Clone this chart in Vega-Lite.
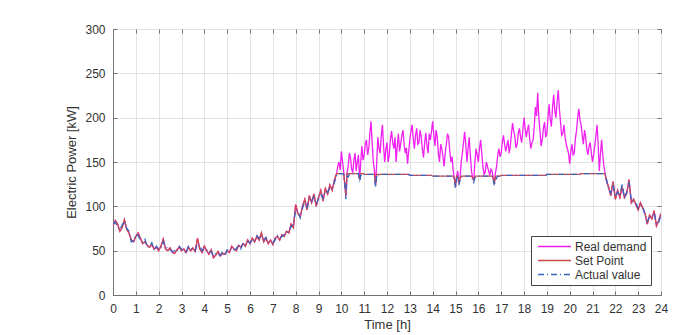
{
  "$schema": "https://vega.github.io/schema/vega-lite/v6.json",
  "autosize": {"type": "none"},
  "width": 548,
  "height": 266,
  "padding": {"left": 113, "top": 29, "right": 23, "bottom": 40},
  "background": "white",
  "config": {
    "font": "Liberation Sans",
    "view": {"stroke": "#737373", "strokeWidth": 1},
    "axis": {
      "labelFont": "Liberation Sans",
      "titleFont": "Liberation Sans",
      "labelFontSize": 12,
      "titleFontSize": 13,
      "titleFontWeight": "normal",
      "labelColor": "#333333",
      "titleColor": "#333333",
      "domainColor": "#737373",
      "tickColor": "#737373",
      "gridColor": "#e3e3e3",
      "gridOpacity": 1
    }
  },
  "data": {
    "values": [
      {"t":0.0,"d":78,"s":78,"a":80},{"t":0.1,"d":84,"s":84,"a":82},{"t":0.2,"d":80,"s":80,"a":77},{"t":0.3,"d":72,"s":72,"a":74},{"t":0.4,"d":76,"s":76,"a":79},
      {"t":0.5,"d":85,"s":85,"a":83},{"t":0.6,"d":74,"s":74,"a":75},{"t":0.7,"d":70,"s":70,"a":72},{"t":0.8,"d":62,"s":62,"a":60},{"t":0.9,"d":60,"s":60,"a":61},
      {"t":1.0,"d":66,"s":66,"a":68},{"t":1.1,"d":70,"s":70,"a":67},{"t":1.2,"d":64,"s":64,"a":62},{"t":1.3,"d":58,"s":58,"a":60},{"t":1.4,"d":60,"s":60,"a":63},
      {"t":1.5,"d":56,"s":56,"a":54},{"t":1.6,"d":54,"s":54,"a":55},{"t":1.7,"d":57,"s":57,"a":59},{"t":1.8,"d":52,"s":52,"a":50},{"t":1.9,"d":54,"s":54,"a":55},
      {"t":2.0,"d":50,"s":50,"a":52},{"t":2.1,"d":55,"s":55,"a":53},{"t":2.2,"d":63,"s":63,"a":60},{"t":2.3,"d":52,"s":52,"a":54},{"t":2.4,"d":50,"s":50,"a":53},
      {"t":2.5,"d":53,"s":53,"a":51},{"t":2.6,"d":48,"s":48,"a":49},{"t":2.7,"d":47,"s":47,"a":50},{"t":2.8,"d":51,"s":51,"a":49},{"t":2.9,"d":54,"s":54,"a":55},
      {"t":3.0,"d":50,"s":50,"a":52},{"t":3.1,"d":52,"s":52,"a":50},{"t":3.2,"d":48,"s":48,"a":47},{"t":3.3,"d":54,"s":54,"a":55},{"t":3.4,"d":50,"s":50,"a":53},
      {"t":3.5,"d":53,"s":53,"a":51},{"t":3.6,"d":49,"s":49,"a":50},{"t":3.7,"d":64,"s":64,"a":58},{"t":3.8,"d":52,"s":52,"a":55},{"t":3.9,"d":48,"s":48,"a":50},
      {"t":4.0,"d":55,"s":55,"a":52},{"t":4.1,"d":50,"s":50,"a":51},{"t":4.2,"d":46,"s":46,"a":48},{"t":4.3,"d":51,"s":51,"a":49},{"t":4.4,"d":42,"s":42,"a":44},
      {"t":4.5,"d":45,"s":45,"a":47},{"t":4.6,"d":49,"s":49,"a":46},{"t":4.7,"d":44,"s":44,"a":45},{"t":4.8,"d":47,"s":47,"a":49},{"t":4.9,"d":46,"s":46,"a":44},
      {"t":5.0,"d":50,"s":50,"a":51},{"t":5.1,"d":48,"s":48,"a":50},{"t":5.2,"d":55,"s":55,"a":53},{"t":5.3,"d":52,"s":52,"a":51},{"t":5.4,"d":50,"s":50,"a":52},
      {"t":5.5,"d":56,"s":56,"a":57},{"t":5.6,"d":54,"s":54,"a":52},{"t":5.7,"d":58,"s":58,"a":59},{"t":5.8,"d":55,"s":55,"a":57},{"t":5.9,"d":62,"s":62,"a":60},
      {"t":6.0,"d":58,"s":58,"a":59},{"t":6.1,"d":64,"s":64,"a":62},{"t":6.2,"d":60,"s":60,"a":61},{"t":6.3,"d":66,"s":66,"a":67},{"t":6.4,"d":62,"s":62,"a":64},
      {"t":6.5,"d":70,"s":70,"a":67},{"t":6.6,"d":60,"s":60,"a":62},{"t":6.7,"d":64,"s":64,"a":65},{"t":6.8,"d":58,"s":58,"a":60},{"t":6.9,"d":62,"s":62,"a":60},
      {"t":7.0,"d":57,"s":57,"a":59},{"t":7.1,"d":64,"s":64,"a":62},{"t":7.2,"d":66,"s":66,"a":67},{"t":7.3,"d":62,"s":62,"a":64},{"t":7.4,"d":68,"s":68,"a":66},
      {"t":7.5,"d":66,"s":66,"a":68},{"t":7.6,"d":72,"s":72,"a":70},{"t":7.7,"d":70,"s":70,"a":72},{"t":7.8,"d":80,"s":80,"a":77},{"t":7.9,"d":76,"s":76,"a":80},
      {"t":8.0,"d":102,"s":102,"a":96},{"t":8.1,"d":92,"s":92,"a":94},{"t":8.2,"d":88,"s":88,"a":87},{"t":8.3,"d":100,"s":100,"a":98},{"t":8.4,"d":108,"s":108,"a":105},
      {"t":8.5,"d":96,"s":96,"a":99},{"t":8.6,"d":112,"s":112,"a":109},{"t":8.7,"d":104,"s":104,"a":106},{"t":8.8,"d":114,"s":114,"a":111},{"t":8.9,"d":100,"s":100,"a":103},
      {"t":9.0,"d":110,"s":110,"a":108},{"t":9.1,"d":118,"s":118,"a":115},{"t":9.2,"d":106,"s":106,"a":109},{"t":9.3,"d":120,"s":120,"a":117},{"t":9.4,"d":114,"s":114,"a":116},
      {"t":9.5,"d":124,"s":124,"a":121},{"t":9.6,"d":118,"s":118,"a":120},{"t":9.7,"d":130,"s":130,"a":127},{"t":9.8,"d":138,"s":137,"a":135},{"t":9.9,"d":150,"s":137,"a":137},
      {"t":10.0,"d":162,"s":137,"a":137},{"t":10.1,"d":140,"s":137,"a":136},{"t":10.2,"d":112,"s":112,"a":108},{"t":10.3,"d":145,"s":137,"a":133},{"t":10.4,"d":155,"s":137,"a":137},
      {"t":10.5,"d":138,"s":137,"a":137},{"t":10.6,"d":160,"s":137,"a":137},{"t":10.7,"d":150,"s":137,"a":137},{"t":10.8,"d":130,"s":130,"a":127},{"t":10.9,"d":168,"s":137,"a":134},
      {"t":11.0,"d":158,"s":136,"a":136},{"t":11.1,"d":175,"s":136,"a":136},{"t":11.2,"d":165,"s":136,"a":136},{"t":11.3,"d":196,"s":136,"a":136},{"t":11.4,"d":150,"s":136,"a":136},
      {"t":11.5,"d":124,"s":124,"a":121},{"t":11.6,"d":178,"s":136,"a":134},{"t":11.7,"d":160,"s":136,"a":136},{"t":11.8,"d":192,"s":136,"a":136},{"t":11.9,"d":150,"s":136,"a":136},
      {"t":12.0,"d":172,"s":136,"a":136},{"t":12.1,"d":158,"s":136,"a":136},{"t":12.2,"d":185,"s":136,"a":136},{"t":12.3,"d":165,"s":136,"a":136},{"t":12.4,"d":150,"s":136,"a":136},
      {"t":12.5,"d":182,"s":136,"a":136},{"t":12.6,"d":170,"s":136,"a":136},{"t":12.7,"d":186,"s":136,"a":136},{"t":12.8,"d":160,"s":136,"a":136},{"t":12.9,"d":148,"s":136,"a":136},
      {"t":13.0,"d":175,"s":135,"a":135},{"t":13.1,"d":192,"s":135,"a":135},{"t":13.2,"d":165,"s":135,"a":135},{"t":13.3,"d":188,"s":135,"a":135},{"t":13.4,"d":172,"s":135,"a":135},
      {"t":13.5,"d":178,"s":135,"a":135},{"t":13.6,"d":155,"s":135,"a":135},{"t":13.7,"d":183,"s":135,"a":135},{"t":13.8,"d":160,"s":135,"a":135},{"t":13.9,"d":175,"s":135,"a":135},
      {"t":14.0,"d":196,"s":134,"a":134},{"t":14.1,"d":168,"s":134,"a":134},{"t":14.2,"d":178,"s":134,"a":134},{"t":14.3,"d":150,"s":134,"a":134},{"t":14.4,"d":165,"s":134,"a":134},
      {"t":14.5,"d":145,"s":134,"a":134},{"t":14.6,"d":170,"s":134,"a":134},{"t":14.7,"d":178,"s":134,"a":134},{"t":14.8,"d":150,"s":134,"a":134},{"t":14.9,"d":140,"s":134,"a":134},
      {"t":15.0,"d":123,"s":123,"a":120},{"t":15.1,"d":140,"s":134,"a":133},{"t":15.2,"d":132,"s":132,"a":130},{"t":15.3,"d":160,"s":134,"a":133},{"t":15.4,"d":184,"s":134,"a":134},
      {"t":15.5,"d":150,"s":134,"a":134},{"t":15.6,"d":178,"s":134,"a":134},{"t":15.7,"d":140,"s":134,"a":134},{"t":15.8,"d":130,"s":130,"a":127},{"t":15.9,"d":165,"s":134,"a":133},
      {"t":16.0,"d":150,"s":134,"a":134},{"t":16.1,"d":175,"s":134,"a":134},{"t":16.2,"d":145,"s":134,"a":134},{"t":16.3,"d":138,"s":134,"a":134},{"t":16.4,"d":145,"s":134,"a":134},
      {"t":16.5,"d":135,"s":134,"a":134},{"t":16.6,"d":140,"s":134,"a":134},{"t":16.7,"d":126,"s":126,"a":123},{"t":16.8,"d":145,"s":134,"a":132},{"t":16.9,"d":165,"s":134,"a":134},
      {"t":17.0,"d":160,"s":135,"a":135},{"t":17.1,"d":180,"s":135,"a":135},{"t":17.2,"d":162,"s":135,"a":135},{"t":17.3,"d":175,"s":135,"a":135},{"t":17.4,"d":168,"s":135,"a":135},
      {"t":17.5,"d":194,"s":135,"a":135},{"t":17.6,"d":178,"s":135,"a":135},{"t":17.7,"d":170,"s":135,"a":135},{"t":17.8,"d":188,"s":135,"a":135},{"t":17.9,"d":172,"s":135,"a":135},
      {"t":18.0,"d":200,"s":135,"a":135},{"t":18.1,"d":178,"s":135,"a":135},{"t":18.2,"d":192,"s":135,"a":135},{"t":18.3,"d":165,"s":135,"a":135},{"t":18.4,"d":175,"s":135,"a":135},
      {"t":18.5,"d":212,"s":135,"a":135},{"t":18.6,"d":228,"s":135,"a":135},{"t":18.7,"d":185,"s":135,"a":135},{"t":18.8,"d":175,"s":135,"a":135},{"t":18.9,"d":195,"s":135,"a":135},
      {"t":19.0,"d":182,"s":136,"a":136},{"t":19.1,"d":215,"s":136,"a":136},{"t":19.2,"d":190,"s":136,"a":136},{"t":19.3,"d":226,"s":136,"a":136},{"t":19.4,"d":200,"s":136,"a":136},
      {"t":19.5,"d":231,"s":136,"a":136},{"t":19.6,"d":195,"s":136,"a":136},{"t":19.7,"d":182,"s":136,"a":136},{"t":19.8,"d":178,"s":136,"a":136},{"t":19.9,"d":165,"s":136,"a":136},
      {"t":20.0,"d":148,"s":136,"a":136},{"t":20.1,"d":170,"s":136,"a":136},{"t":20.2,"d":160,"s":136,"a":136},{"t":20.3,"d":185,"s":136,"a":136},{"t":20.4,"d":210,"s":136,"a":136},
      {"t":20.5,"d":192,"s":137,"a":137},{"t":20.6,"d":170,"s":137,"a":137},{"t":20.7,"d":178,"s":137,"a":137},{"t":20.8,"d":158,"s":137,"a":137},{"t":20.9,"d":172,"s":137,"a":137},
      {"t":21.0,"d":150,"s":137,"a":137},{"t":21.1,"d":168,"s":137,"a":137},{"t":21.2,"d":192,"s":137,"a":137},{"t":21.3,"d":140,"s":137,"a":137},{"t":21.4,"d":175,"s":137,"a":137},
      {"t":21.5,"d":145,"s":137,"a":137},{"t":21.6,"d":130,"s":130,"a":132},{"t":21.7,"d":122,"s":122,"a":119},{"t":21.8,"d":112,"s":112,"a":115},{"t":21.9,"d":128,"s":128,"a":125},
      {"t":22.0,"d":108,"s":108,"a":111},{"t":22.1,"d":118,"s":118,"a":116},{"t":22.2,"d":110,"s":110,"a":112},{"t":22.3,"d":122,"s":122,"a":126},{"t":22.4,"d":110,"s":110,"a":108},
      {"t":22.5,"d":115,"s":115,"a":117},{"t":22.6,"d":130,"s":130,"a":127},{"t":22.7,"d":104,"s":104,"a":106},{"t":22.8,"d":108,"s":108,"a":105},{"t":22.9,"d":102,"s":102,"a":104},
      {"t":23.0,"d":96,"s":96,"a":98},{"t":23.1,"d":104,"s":104,"a":101},{"t":23.2,"d":98,"s":98,"a":100},{"t":23.3,"d":92,"s":92,"a":90},{"t":23.4,"d":80,"s":80,"a":83},
      {"t":23.5,"d":90,"s":90,"a":88},{"t":23.6,"d":86,"s":86,"a":88},{"t":23.7,"d":95,"s":95,"a":92},{"t":23.8,"d":78,"s":78,"a":80},{"t":23.9,"d":84,"s":84,"a":82},
      {"t":24.0,"d":92,"s":92,"a":90},
      {"t":9.85,"d":146,"s":137,"a":137},{"t":9.95,"d":141,"s":137,"a":137},{"t":10.05,"d":151,"s":137,"a":137},{"t":10.15,"d":126,"s":126,"a":123},{"t":10.25,"d":138,"s":137,"a":134},
      {"t":10.35,"d":160,"s":137,"a":136},{"t":10.45,"d":142,"s":137,"a":137},{"t":10.55,"d":152,"s":137,"a":137},{"t":10.65,"d":140,"s":137,"a":137},{"t":10.75,"d":158,"s":137,"a":137},
      {"t":10.85,"d":150,"s":137,"a":135},{"t":10.95,"d":152,"s":137,"a":136},{"t":11.05,"d":170,"s":136,"a":136},{"t":11.15,"d":158,"s":136,"a":136},{"t":11.25,"d":182,"s":136,"a":136},
      {"t":11.35,"d":172,"s":136,"a":136},{"t":11.45,"d":140,"s":136,"a":136},{"t":11.55,"d":150,"s":136,"a":135},{"t":11.65,"d":165,"s":136,"a":136},{"t":11.75,"d":180,"s":136,"a":136},
      {"t":11.85,"d":168,"s":136,"a":136},{"t":11.95,"d":164,"s":136,"a":136},{"t":12.05,"d":150,"s":136,"a":136},{"t":12.15,"d":176,"s":136,"a":136},{"t":12.25,"d":172,"s":136,"a":136},
      {"t":12.35,"d":178,"s":136,"a":136},{"t":12.45,"d":168,"s":136,"a":136},{"t":12.55,"d":162,"s":136,"a":136},{"t":12.65,"d":180,"s":136,"a":136},{"t":12.75,"d":170,"s":136,"a":136},
      {"t":12.85,"d":166,"s":136,"a":136},{"t":12.95,"d":162,"s":136,"a":136},{"t":13.05,"d":185,"s":135,"a":135},{"t":13.15,"d":176,"s":135,"a":135},{"t":13.25,"d":180,"s":135,"a":135},
      {"t":13.35,"d":170,"s":135,"a":135},{"t":13.45,"d":186,"s":135,"a":135},{"t":13.55,"d":164,"s":135,"a":135},{"t":13.65,"d":172,"s":135,"a":135},{"t":13.75,"d":168,"s":135,"a":135},
      {"t":13.85,"d":182,"s":135,"a":135},{"t":13.95,"d":185,"s":135,"a":135},{"t":14.05,"d":180,"s":134,"a":134},{"t":14.15,"d":186,"s":134,"a":134},{"t":14.25,"d":160,"s":134,"a":134},
      {"t":14.35,"d":170,"s":134,"a":134},{"t":14.45,"d":156,"s":134,"a":134},{"t":14.55,"d":160,"s":134,"a":134},{"t":14.65,"d":182,"s":134,"a":134},{"t":14.75,"d":162,"s":134,"a":134},
      {"t":14.85,"d":156,"s":134,"a":134},{"t":14.95,"d":132,"s":132,"a":130},{"t":15.05,"d":134,"s":134,"a":131},{"t":15.15,"d":126,"s":126,"a":124},{"t":15.25,"d":150,"s":134,"a":133},
      {"t":15.35,"d":172,"s":134,"a":134},{"t":15.45,"d":170,"s":134,"a":134},{"t":15.55,"d":165,"s":134,"a":134},{"t":15.65,"d":158,"s":134,"a":134},{"t":15.75,"d":132,"s":132,"a":130},
      {"t":15.85,"d":150,"s":134,"a":132},{"t":15.95,"d":158,"s":134,"a":134},{"t":16.05,"d":165,"s":134,"a":134},{"t":16.15,"d":160,"s":134,"a":134},{"t":16.25,"d":136,"s":134,"a":134},
      {"t":16.35,"d":150,"s":134,"a":134},{"t":16.45,"d":140,"s":134,"a":134},{"t":16.55,"d":142,"s":134,"a":134},{"t":16.65,"d":132,"s":132,"a":130},{"t":16.75,"d":138,"s":134,"a":129},
      {"t":16.85,"d":158,"s":134,"a":134},{"t":16.95,"d":156,"s":134,"a":134},{"t":17.05,"d":172,"s":135,"a":135},{"t":17.15,"d":170,"s":135,"a":135},{"t":17.25,"d":168,"s":135,"a":135},
      {"t":17.35,"d":160,"s":135,"a":135},{"t":17.45,"d":182,"s":135,"a":135},{"t":17.55,"d":185,"s":135,"a":135},{"t":17.65,"d":166,"s":135,"a":135},{"t":17.75,"d":182,"s":135,"a":135},
      {"t":17.85,"d":178,"s":135,"a":135},{"t":17.95,"d":186,"s":135,"a":135},{"t":18.05,"d":188,"s":135,"a":135},{"t":18.15,"d":186,"s":135,"a":135},{"t":18.25,"d":176,"s":135,"a":135},
      {"t":18.35,"d":172,"s":135,"a":135},{"t":18.45,"d":190,"s":135,"a":135},{"t":18.55,"d":202,"s":135,"a":135},{"t":18.65,"d":200,"s":135,"a":135},{"t":18.75,"d":168,"s":135,"a":135},
      {"t":18.85,"d":188,"s":135,"a":135},{"t":18.95,"d":178,"s":135,"a":135},{"t":19.05,"d":200,"s":136,"a":136},{"t":19.15,"d":198,"s":136,"a":136},{"t":19.25,"d":212,"s":136,"a":136},
      {"t":19.35,"d":208,"s":136,"a":136},{"t":19.45,"d":218,"s":136,"a":136},{"t":19.55,"d":210,"s":136,"a":136},{"t":19.65,"d":180,"s":136,"a":136},{"t":19.75,"d":192,"s":136,"a":136},
      {"t":19.85,"d":170,"s":136,"a":136},{"t":19.95,"d":160,"s":136,"a":136},{"t":20.05,"d":162,"s":136,"a":136},{"t":20.15,"d":158,"s":136,"a":136},{"t":20.25,"d":176,"s":136,"a":136},
      {"t":20.35,"d":200,"s":136,"a":136},{"t":20.45,"d":198,"s":136,"a":136},{"t":20.55,"d":180,"s":137,"a":137},{"t":20.65,"d":186,"s":137,"a":137},{"t":20.75,"d":165,"s":137,"a":137},
      {"t":20.85,"d":168,"s":137,"a":137},{"t":20.95,"d":160,"s":137,"a":137},{"t":21.05,"d":158,"s":137,"a":137},{"t":21.15,"d":180,"s":137,"a":137},{"t":21.25,"d":168,"s":137,"a":137},
      {"t":21.35,"d":160,"s":137,"a":137},{"t":21.45,"d":158,"s":137,"a":137},{"t":21.55,"d":138,"s":137,"a":137}
    ]
  },
  "transform": [{"fold": ["d", "s", "a"], "as": ["series", "value"]}],
  "layer": [
    {
      "mark": {"type": "line", "strokeWidth": 1.3, "clip": true},
      "encoding": {
        "x": {
          "field": "t", "type": "quantitative",
          "scale": {"domain": [0, 24], "nice": false, "zero": false},
          "axis": {"title": "Time [h]", "values": [0,1,2,3,4,5,6,7,8,9,10,11,12,13,14,15,16,17,18,19,20,21,22,23,24],
                   "tickSize": -4, "labelPadding": 12, "titlePadding": 4, "grid": true, "labelFlush": false}
        },
        "y": {
          "field": "value", "type": "quantitative",
          "scale": {"domain": [0, 300], "nice": false},
          "axis": {"title": "Electric Power [kW]", "values": [0,50,100,150,200,250,300],
                   "tickSize": -4, "labelPadding": 12, "titlePadding": 6, "grid": true}
        },
        "color": {
          "field": "series", "type": "nominal",
          "scale": {"domain": ["d", "s", "a"], "range": ["#f020f0", "#cc4a4a", "#3a64c4"]},
          "legend": {
            "title": null,
            "orient": "bottom-right",
            "offset": 10,
            "labelExpr": "datum.label == 'd' ? 'Real demand' : datum.label == 's' ? 'Set Point' : 'Actual value'",
            "labelFontSize": 12,
            "labelFont": "Liberation Sans",
            "labelColor": "#333333",
            "symbolType": "M-3,0H3",
            "symbolSize": 121,
            "symbolStrokeWidth": 1.5,
            "symbolOffset": 13,
            "labelOffset": 14,
            "rowPadding": 1,
            "padding": 4,
            "strokeColor": "#444444",
            "fillColor": "white"
          }
        },
        "strokeDash": {
          "field": "series", "type": "nominal",
          "scale": {"domain": ["d", "s", "a"], "range": [[1, 0], [1, 0], [6, 3, 1, 3]]},
          "legend": null
        },
        "order": {"field": "t", "type": "quantitative"}
      }
    },
    {
      "mark": {"type": "point", "opacity": 0},
      "encoding": {
        "x": {"field": "t", "type": "quantitative",
              "axis": {"orient": "top", "title": null, "labels": false, "domain": false, "grid": false, "tickSize": -4,
                       "values": [0,1,2,3,4,5,6,7,8,9,10,11,12,13,14,15,16,17,18,19,20,21,22,23,24]}},
        "y": {"field": "value", "type": "quantitative",
              "axis": {"orient": "right", "title": null, "labels": false, "domain": false, "grid": false, "tickSize": -4,
                       "values": [0,50,100,150,200,250,300]}}
      }
    }
  ],
  "resolve": {"axis": {"x": "independent", "y": "independent"}}
}
